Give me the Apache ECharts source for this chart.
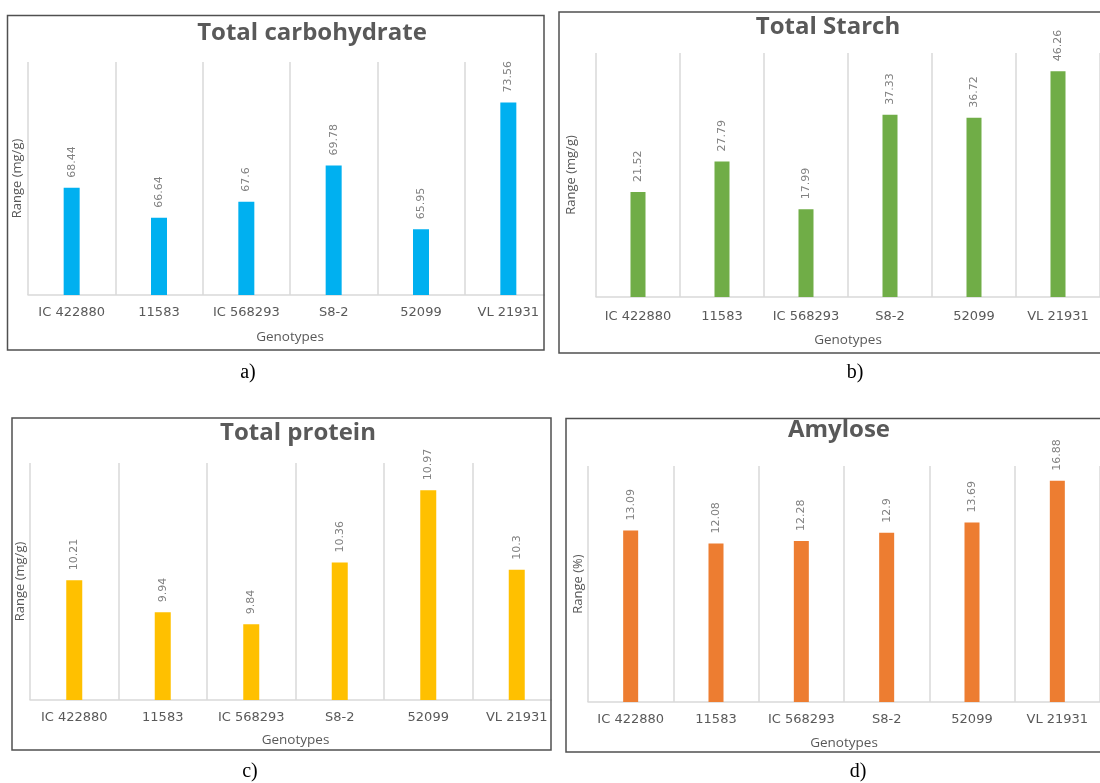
<!DOCTYPE html>
<html>
<head>
<meta charset="utf-8">
<script src="https://cdn.jsdelivr.net/npm/echarts@6/dist/echarts.min.js"></script>
<style>
html,body{margin:0;padding:0;background:#fff;}
#chart{width:1100px;height:783px;}
</style>
</head>
<body>
<div id="chart"></div>
<script>
// ---- data ----
const categories = ['IC 422880', '11583', 'IC 568293', 'S8-2', '52099', 'VL 21931'];
const carbohydrate = [68.44, 66.64, 67.6, 69.78, 65.95, 73.56];
const starch = [21.52, 27.79, 17.99, 37.33, 36.72, 46.26];
const protein = [10.21, 9.94, 9.84, 10.36, 10.97, 10.3];
const amylose = [13.09, 12.08, 12.28, 12.9, 13.69, 16.88];
const titles = ['Total carbohydrate', 'Total Starch', 'Total protein', 'Amylose'];
const yNames = ['Range (mg/g)', 'Range (mg/g)', 'Range (mg/g)', 'Range (%)'];
const xName = 'Genotypes';
const captions = ['a)', 'b)', 'c)', 'd)'];
const yMins = [62, 0, 9.2, 0];
const yMaxs = [76, 50, 11.2, 18];

// ---- layout / style ----
const seriesData = [carbohydrate, starch, protein, amylose];
const barColors = ['#00B0F0', '#70AD47', '#FFC000', '#ED7D31'];
const grids = [
  {left: 28, top: 62, width: 524, height: 233},
  {left: 596, top: 53, width: 523, height: 244},
  {left: 30, top: 463, width: 531, height: 237},
  {left: 588, top: 466, width: 530, height: 236}
];
const titlePos = [[312, 33], [828, 27], [298, 433], [839, 430]];
const captionPos = [[248, 373], [855, 373], [250, 772], [858, 772]];
const labelMargins = [11, 13, 11, 11];
const xNameGaps = [35, 36, 33, 34];
const yNameGaps = [4, 18, 3, 3];
const barWidths = [16, 15, 16, 15];
const frames = [
  {x: 7.5, y: 15.5, width: 536.5, height: 334.5},
  {x: 559, y: 12, width: 600, height: 341},
  {x: 12, y: 418, width: 539, height: 332},
  {x: 566, y: 418.5, width: 600, height: 333.5}
];

const gray = '#595959';
const lineGray = '#D9D9D9';

const option = {
  animation: false,
  backgroundColor: '#ffffff',
  title: titles.map((t, i) => ({
    text: t,
    left: titlePos[i][0],
    top: titlePos[i][1],
    textAlign: 'center',
    textVerticalAlign: 'middle',
    padding: 0,
    textStyle: {fontFamily: 'Open Sans', fontWeight: 'bold', fontSize: 24, color: gray}
  })),
  grid: grids.map(g => Object.assign({containLabel: false}, g)),
  xAxis: categories && grids.map((g, i) => ({
    type: 'category',
    gridIndex: i,
    data: categories,
    name: xName,
    nameLocation: 'middle',
    nameGap: xNameGaps[i],
    nameTextStyle: {fontFamily: 'Open Sans', fontSize: 13.5, color: gray},
    axisLine: {show: true, lineStyle: {color: lineGray, width: 1.5}},
    axisTick: {show: false},
    axisLabel: {show: true, interval: 0, margin: labelMargins[i], fontFamily: 'DejaVu Sans', fontSize: 13, color: gray},
    splitLine: {show: true, interval: 0, lineStyle: {color: lineGray, width: 1.5}}
  })),
  yAxis: grids.map((g, i) => ({
    type: 'value',
    gridIndex: i,
    min: yMins[i],
    max: yMaxs[i],
    name: yNames[i],
    nameLocation: 'middle',
    nameGap: yNameGaps[i],
    nameTextStyle: {fontFamily: 'Open Sans', fontSize: 13, color: gray},
    axisLine: {show: false},
    axisTick: {show: false},
    axisLabel: {show: false},
    splitLine: {show: false}
  })),
  series: seriesData.map((d, i) => ({
    type: 'bar',
    xAxisIndex: i,
    yAxisIndex: i,
    data: d,
    barWidth: barWidths[i],
    itemStyle: {color: barColors[i]},
    label: {
      show: true,
      position: 'top',
      distance: 10,
      rotate: 90,
      align: 'left',
      verticalAlign: 'middle',
      fontFamily: 'DejaVu Sans',
      fontSize: 11,
      color: '#808080'
    }
  })),
  graphic: [
    // masks for plot parts that run past the frame
    {type: 'rect', z: 50, shape: {x: 545, y: 40, width: 12, height: 270}, style: {fill: '#ffffff'}},
    {type: 'rect', z: 50, shape: {x: 552, y: 450, width: 13, height: 260}, style: {fill: '#ffffff'}}
  ].concat(frames.map(f => ({
    type: 'rect', z: 60,
    shape: f,
    style: {fill: 'none', stroke: '#505050', lineWidth: 1.5}
  }))).concat(captions.map((c, i) => ({
    type: 'text', z: 60,
    x: captionPos[i][0], y: captionPos[i][1],
    style: {text: c, font: '20px "Liberation Serif"', fill: '#000000', align: 'center', verticalAlign: 'middle'}
  })))
};

const chart = echarts.init(document.getElementById('chart'), null, {renderer: 'canvas'});
chart.setOption(option);
</script>
</body>
</html>
